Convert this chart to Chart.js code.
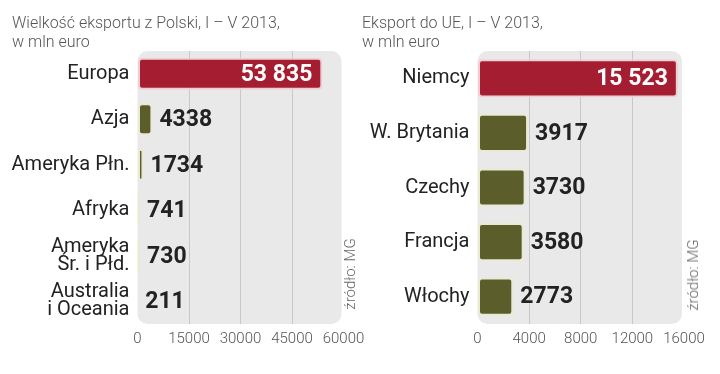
<!DOCTYPE html>
<html>
<head>
<meta charset="utf-8">
<script src="https://cdn.jsdelivr.net/npm/chart.js@4"></script>
<style>
  html,body{margin:0;padding:0;background:#fff;}
  #wrap{position:relative;width:720px;height:374px;overflow:hidden;font-family:Roboto,"Liberation Sans",sans-serif;}
  canvas{position:absolute;top:0;}
  .title{position:absolute;top:13px;font-size:16px;line-height:19px;font-weight:300;color:#555;white-space:nowrap;}
  .src{position:absolute;font-size:15px;font-weight:300;color:#666;white-space:nowrap;transform:translate(-50%,-50%) rotate(-90deg);}
</style>
</head>
<body>
<div id="wrap">
  <canvas id="c1" width="380" height="374" style="left:0"></canvas>
  <canvas id="c2" width="360" height="374" style="left:360px"></canvas>
  <div class="title" style="left:12px">Wielkość eksportu z Polski, I – V 2013,<br>w mln euro</div>
  <div class="title" style="left:362px">Eksport do UE, I – V 2013,<br>w mln euro</div>
  <div class="src" style="left:350px;top:274px">źródło: MG</div>
  <div class="src" style="left:693px;top:275px">źródło: MG</div>
</div>
<script>
const worldCategories = ['Europa', 'Azja', 'Ameryka Płn.', 'Afryka', ['Ameryka', 'Śr. i Płd.'], ['Australia', 'i Oceania']];
const worldValues = [53835, 4338, 1734, 741, 730, 211];
const worldTicks = [0, 15000, 30000, 45000, 60000];

const euCategories = ['Niemcy', 'W. Brytania', 'Czechy', 'Francja', 'Włochy'];
const euValues = [15523, 3917, 3730, 3580, 2773];
const euTicks = [0, 4000, 8000, 12000, 16000];

const RED = '#a51d30', GREEN = '#5b5e2b';
const RED_BORDER = '#f0cdd2', GREEN_BORDER = '#ece9d3';

function fmt(v){
  const s = String(v);
  return v >= 10000 ? s.slice(0, s.length - 3) + ' ' + s.slice(-3) : s;
}

const bgPlugin = {
  id: 'bg',
  beforeDraw(chart){
    const {ctx, chartArea: a} = chart;
    ctx.save();
    ctx.fillStyle = '#e9e9e9';
    ctx.beginPath();
    ctx.roundRect(a.left, a.top, a.right - a.left - 2, a.bottom - a.top, 10);
    ctx.fill();
    ctx.restore();
  }
};

const valuePlugin = {
  id: 'vals',
  afterDatasetsDraw(chart){
    const {ctx} = chart;
    const meta = chart.getDatasetMeta(0);
    const data = chart.data.datasets[0].data;
    ctx.save();
    ctx.font = 'bold 23px Roboto, "Liberation Sans", sans-serif';
    ctx.textBaseline = 'middle';
    meta.data.forEach((bar, i) => {
      const txt = fmt(data[i]);
      if (i === 0) {
        ctx.fillStyle = '#ffffff';
        ctx.textAlign = 'right';
        ctx.fillText(txt, bar.x - 10, bar.y + 1);
      } else {
        ctx.fillStyle = '#222222';
        ctx.textAlign = 'left';
        ctx.fillText(txt, bar.x + 7, bar.y + 1);
      }
    });
    ctx.restore();
  }
};

function makeChart(id, cats, vals, ticks, yWidth, padRight){
  const max = ticks[ticks.length - 1];
  const step = ticks[1] - ticks[0];
  return new Chart(document.getElementById(id), {
    type: 'bar',
    data: {
      labels: cats,
      datasets: [{
        data: vals,
        backgroundColor: vals.map((v, i) => i === 0 ? RED : GREEN),
        borderColor: vals.map((v, i) => i === 0 ? RED_BORDER : GREEN_BORDER),
        borderWidth: 2,
        borderRadius: 4,
        borderSkipped: false,
        barPercentage: 0.7,
        categoryPercentage: 1
      }]
    },
    options: {
      indexAxis: 'y',
      responsive: false,
      animation: false,
      devicePixelRatio: 1,
      layout: {padding: {top: 51, right: padRight, bottom: 0, left: 0}},
      plugins: {legend: {display: false}, tooltip: {enabled: false}},
      scales: {
        x: {
          min: 0, max: max,
          afterFit(s){ s.height = 50; s.paddingLeft = 0; s.paddingRight = 0; },
          afterBuildTicks(s){ s.ticks = ticks.map(v => ({value: v})); },
          border: {display: false},
          grid: {
            drawTicks: false,
            color: c => (c.tick && (c.tick.value === 0 || c.tick.value === max)) ? 'rgba(0,0,0,0)' : '#c8c8c8',
            lineWidth: 1
          },
          ticks: {
            stepSize: step,
            padding: 6,
            color: '#555',
            font: {family: 'Roboto, "Liberation Sans", sans-serif', size: 15, weight: 300},
            callback: v => String(v),
            maxRotation: 0,
            autoSkip: false
          }
        },
        y: {
          afterFit(s){ s.width = yWidth; s.paddingTop = 0; s.paddingBottom = 0; },
          border: {display: false},
          grid: {display: false, drawTicks: false},
          ticks: {
            padding: 8,
            color: '#222',
            font: {family: 'Roboto, "Liberation Sans", sans-serif', size: 20, lineHeight: 0.92},
            autoSkip: false
          }
        }
      }
    },
    plugins: [bgPlugin, valuePlugin]
  });
}

makeChart('c1', worldCategories, worldValues, worldTicks, 137.5, 36.5);
makeChart('c2', euCategories, euValues, euTicks, 117.5, 36);
</script>
</body>
</html>
